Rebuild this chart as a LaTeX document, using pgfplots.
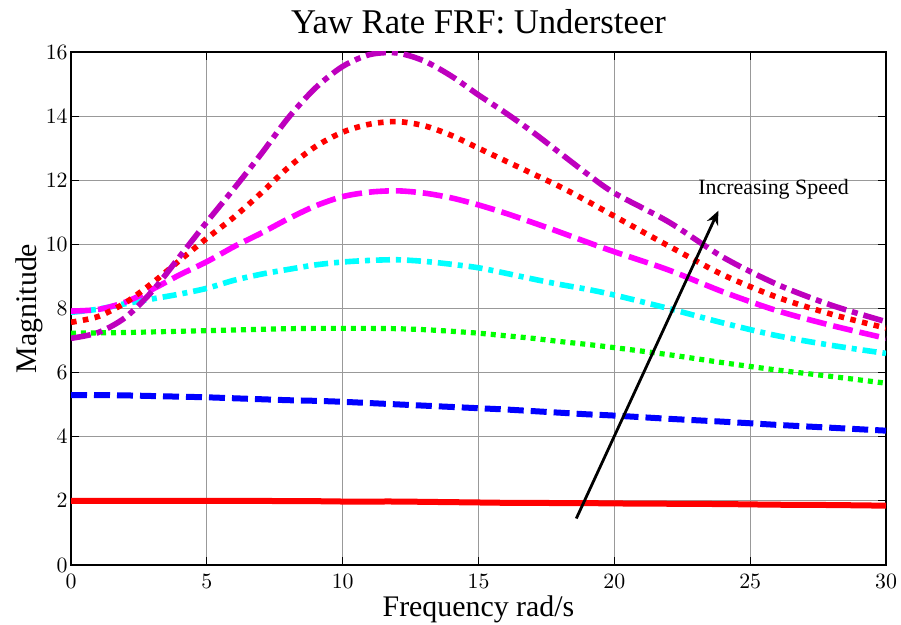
\documentclass[border=0pt]{standalone}
\usepackage{fontspec}
\setmainfont{Liberation Serif}
\usepackage{pgfplots}
\pgfplotsset{compat=1.18}
\usepackage{pgfplotstable}
\usetikzlibrary{arrows.meta}

\definecolor{mpurple}{RGB}{190,0,190}
\definecolor{mcyan}{RGB}{0,255,255}
\definecolor{mmagenta}{RGB}{255,0,255}
\definecolor{mgreen}{RGB}{0,255,0}
\definecolor{mred}{RGB}{255,0,0}
\definecolor{mblue}{RGB}{0,0,255}

% x, solid red, blue, green, cyan, magenta, red dotted, purple
\pgfplotstableread{
x   S    B    G    C    M     R     P
0   2.00 5.30 7.23 7.88 7.92  7.57  7.07
1   2.00 5.30 7.24 7.98 7.97  7.75  7.25
2   2.00 5.29 7.25 8.15 8.20  8.18  7.72
3   2.00 5.27 7.27 8.30 8.60  8.80  8.55
4   2.00 5.25 7.29 8.45 9.05  9.50  9.62
5   2.00 5.23 7.31 8.63 9.46  10.19 10.70
6   2.00 5.20 7.33 8.88 9.93  10.85 11.74
7   2.00 5.17 7.35 9.07 10.35 11.60 12.82
8   1.99 5.14 7.37 9.22 10.80 12.40 13.95
9   1.99 5.12 7.38 9.36 11.20 13.05 14.88
10  1.98 5.09 7.38 9.45 11.49 13.50 15.55
11  1.98 5.05 7.38 9.50 11.63 13.75 15.92
12  1.98 5.01 7.37 9.52 11.67 13.83 15.97
13  1.97 4.97 7.34 9.47 11.60 13.70 15.72
14  1.96 4.93 7.29 9.38 11.45 13.40 15.25
15  1.95 4.89 7.23 9.27 11.23 13.00 14.66
16  1.94 4.85 7.15 9.10 10.97 12.60 14.10
17  1.94 4.80 7.07 8.92 10.68 12.20 13.50
18  1.93 4.75 6.97 8.75 10.38 11.80 12.85
19  1.93 4.70 6.88 8.60 10.07 11.35 12.20
20  1.92 4.66 6.78 8.42 9.77  10.88 11.60
22  1.91 4.56 6.56 8.00 9.20  9.95  10.70
24  1.90 4.47 6.31 7.55 8.52  9.05  9.60
26  1.88 4.37 6.08 7.15 7.93  8.35  8.75
28  1.87 4.28 5.88 6.85 7.47  7.82  8.10
30  1.85 4.19 5.67 6.60 7.07  7.39  7.59
}\frf

\begin{document}
\begin{tikzpicture}
\begin{axis}[
  scale only axis,
  width=407.5bp, height=256.5bp,
  xmin=0, xmax=30, ymin=0, ymax=16,
  xtick={0,5,...,30}, ytick={0,2,...,16},
  tick align=inside,
  major tick length=4bp,
  tick style={black, line width=0.6bp},
  axis line style={black, line width=0.8bp},
  grid=major,
  grid style={black!40, line width=0.6bp},
  ticklabel style={font=\fontsize{11}{12}\selectfont, inner sep=0pt},
  yticklabel style={anchor=east, xshift=-1.5bp},
  xticklabel style={anchor=north, yshift=-4.5bp},
  title={Yaw Rate FRF: Understeer},
  title style={font=\fontsize{17.4}{18}\selectfont, at={(0.5,1)}, anchor=base, yshift=3.5bp, inner sep=0pt},
  xlabel={Frequency rad/s},
  xlabel style={font=\fontsize{15}{16}\selectfont, at={(0.5,0)}, anchor=base, yshift=-25.5bp, inner sep=0pt},
  ylabel={Magnitude},
  ylabel style={font=\fontsize{15}{16}\selectfont, at={(0,0.5)}, anchor=base, yshift=17bp, inner sep=0pt},
  every axis plot/.append style={smooth, line cap=butt},
]
\addplot[mred, line width=3bp] table[x=x, y=S] {\frf};
\addplot[mblue, line width=3bp, dash pattern=on 8bp off 3.5bp] table[x=x, y=B] {\frf};
\addplot[mgreen, line width=2.6bp, dash pattern=on 2.5bp off 2.5bp] table[x=x, y=G] {\frf};
\addplot[mcyan, line width=2.8bp, dash pattern=on 7bp off 3bp on 2.5bp off 3bp] table[x=x, y=C] {\frf};
\addplot[mmagenta, line width=2.8bp, dash pattern=on 10bp off 3.5bp] table[x=x, y=M] {\frf};
\addplot[mred, line width=2.8bp, dash pattern=on 2.8bp off 3.2bp] table[x=x, y=R] {\frf};
\addplot[mpurple, line width=2.8bp, dash pattern=on 10bp off 3bp on 3bp off 3bp] table[x=x, y=P] {\frf};
\draw[-{Stealth[length=7bp, width=6bp]}, line width=1.4bp] (axis cs:18.6,1.45) -- (axis cs:23.83,11.05);
\node[anchor=west, inner sep=0pt, font=\fontsize{11}{12}\selectfont] at (axis cs:23.08,11.73) {Increasing Speed};
\coordinate (sw) at (rel axis cs:0,0);
\end{axis}
\pgfresetboundingbox
\path[use as bounding box] ([shift={(-35.5bp,-30bp)}]sw) rectangle ([shift={(415bp,282.5bp)}]sw);
\end{tikzpicture}
\end{document}
